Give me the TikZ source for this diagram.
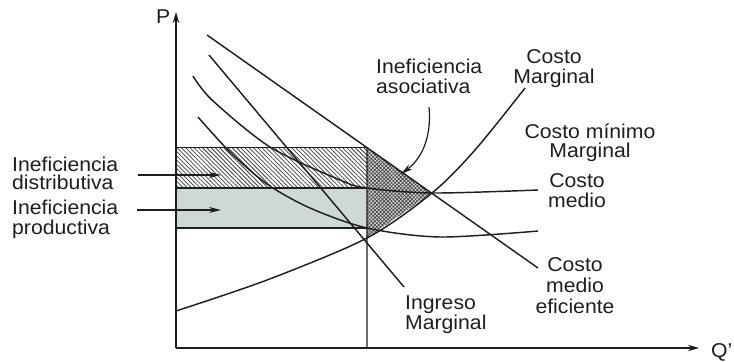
\documentclass[tikz,border=0pt]{standalone}
\usepackage{fontspec}
\setmainfont{Liberation Sans}[FakeStretch=1.06]
\usetikzlibrary{arrows.meta,patterns.meta,intersections}
\definecolor{ink}{RGB}{30,30,30}
\definecolor{prodfill}{RGB}{206,217,213}
\begin{document}
\begin{tikzpicture}[x=1bp,y=-1bp,
  every node/.style={font=\fontsize{20bp}{19.5bp}\selectfont, text=ink, inner sep=0pt},
  curve/.style={draw=ink, line width=1.45bp},
  axisline/.style={draw=ink, line width=1.4bp, -{Stealth[length=11bp,width=6.5bp]}},
  pointer/.style={draw=ink, line width=1.2bp, -{Stealth[length=12bp,width=6bp]}},
  edge/.style={draw=ink, line width=1.2bp}]
\useasboundingbox (0,0) rectangle (734,361);

\coordinate (O) at (176,348);
\coordinate (Ptop) at (176,12);
\coordinate (Qend) at (699,348);
\coordinate (Qbot) at (367,348);

% construction paths
\path[name path=cmeef] (207,35) -- (538,268);
\path[name path=qline] (367,348) -- (367,100);
\path[name path=cmg] plot[smooth] coordinates {(176,311) (267,280) (367,238) (432,193) (475,150) (525,88)};
\path[name path=cme] plot[smooth] coordinates {(193,76) (212,100) (270,147) (340,180) (367,188) (432,193) (538,190)};
\path[name path=cmin] plot[smooth] coordinates {(198,117) (230,152) (267,184) (310,208) (367,228) (440,237) (538,231)};
\path[name intersections={of=cmeef and qline, by=qa}];
\path[name intersections={of=cme and qline, by=qc}];
\path[name intersections={of=cmin and qline, by=qd}];
\path[name intersections={of=cmg and qline, by=qm}];
\path[name intersections={of=cmeef and cmg, by=apex}];

% shaded areas
\path[pattern={Lines[angle=-45,distance=3bp,line width=0.75bp]}, pattern color=ink!85] (O|-qa) rectangle (qc);
\fill[prodfill] (O|-qc) rectangle (qd);
\fill[gray!30] (qa) -- (apex) -- (qm) -- cycle;
\path[pattern={Hatch[angle=45,distance=2.6bp,line width=0.65bp]}, pattern color=ink!85] (qa) -- (apex) -- (qm) -- cycle;

% rectangle edges
\draw[edge] (O|-qa) -- (qa);
\draw[edge] (O|-qc) -- (qc);
\draw[edge] (O|-qd) -- (qd);
\draw[edge] (Qbot) -- (qa);

% curves
\draw[curve] (207,35) -- (538,268);
\draw[curve] (209,55) -- (404,287);
\draw[curve] plot[smooth] coordinates {(176,311) (267,280) (367,238) (432,193) (475,150) (525,88)};
\draw[curve] plot[smooth] coordinates {(193,76) (212,100) (270,147) (340,180) (367,188) (432,193) (538,190)};
\draw[curve] plot[smooth] coordinates {(198,117) (230,152) (267,184) (310,208) (367,228) (440,237) (538,231)};

% axes
\draw[axisline] (O) -- (Ptop);
\draw[axisline] (O) -- (Qend);
\node[anchor=base west] (plabel) at (156,23) {P};
\node[anchor=base west] (qlabel) at (711,357) {Q'};

% labels (anchor = baseline of last line)
\node[anchor=base west, align=left] (ldist) at (12,189.5) {Ineficiencia\\[-1.2bp]distributiva};
\node[anchor=base west, align=left] (lprod) at (12,234) {Ineficiencia\\productiva};
\node[anchor=base west, align=left] (lasoc) at (376,93) {Ineficiencia\\[0.5bp]asociativa};
\node[anchor=base, align=center] (lcmg) at (554,83) {Costo\\Marginal};
\node[anchor=base, align=center] (lcmin) at (590,157.5) {Costo mínimo\\Marginal};
\node[anchor=base, align=center] (lcme) at (577,207) {Costo\\medio};
\node[anchor=base, align=center] (lcmeef) at (575,313) {Costo\\[1.5bp]medio\\[1.5bp]eficiente};
\node[anchor=base west, align=left] (lim) at (405,329) {Ingreso\\Marginal};

% pointers
\coordinate (d0) at (138,175);
\coordinate (d1) at (221,175);
\coordinate (p0) at (137,210);
\coordinate (p1) at (221,210);
\coordinate (a0) at (429,107);
\coordinate (a1) at (401,174);
\draw[pointer] (d0) -- (d1);
\draw[pointer] (p0) -- (p1);
\draw[pointer] (a0) .. controls (432,140) and (420,160) .. (a1);
\end{tikzpicture}
\end{document}
